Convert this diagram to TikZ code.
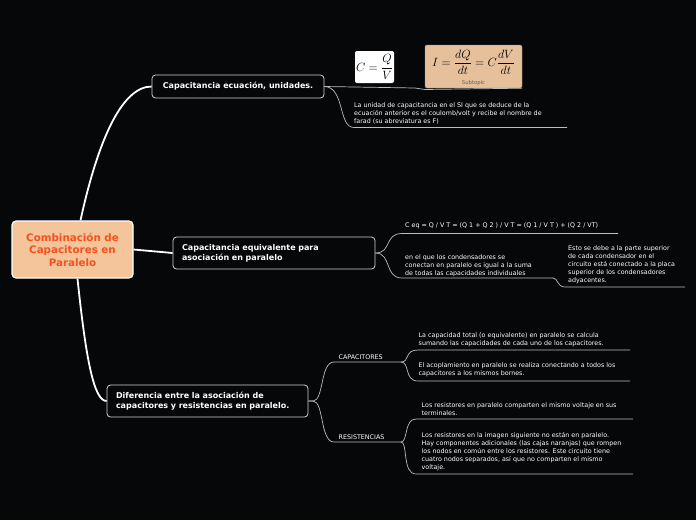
\documentclass[tikz,border=0pt]{standalone}
\usepackage[no-math]{fontspec}
\setmainfont{DejaVu Sans}
\usepackage{amsmath}
\definecolor{bgdark}{HTML}{060709}
\definecolor{peach}{HTML}{F4C49B}
\definecolor{rootred}{HTML}{F4511E}
\definecolor{subpeach}{HTML}{E6BF9B}
\definecolor{twiggray}{HTML}{BDBDBD}
\tikzset{
  rootbox/.style={draw=white, line width=1.2pt, fill=peach, rounded corners=4pt,
    text=rootred, font=\fontsize{10.3}{12.5}\selectfont\bfseries, align=center,
    minimum width=121pt, minimum height=57pt},
  mainbox/.style={draw=white!82!black, line width=0.8pt, fill=bgdark, rounded corners=3.5pt,
    text=white, font=\fontsize{8}{9.8}\selectfont\bfseries, align=left, inner xsep=9pt},
  note/.style={text=white, font=\fontsize{6.35}{8}\selectfont, align=left,
    inner sep=0pt, anchor=north west},
  link/.style={draw=white, line width=1.8pt},
  twig/.style={draw=twiggray, line width=0.7pt}
}
\begin{document}
\begin{tikzpicture}[x=1pt,y=-1pt]
\fill[bgdark] (0,0) rectangle (696,520);
\useasboundingbox (0,0) rectangle (696,520);

% central topic and main branches
\node[rootbox] (root) at (72.5,249.5) {Combinación de\\Capacitores en\\Paralelo};
\node[mainbox, minimum width=172pt, minimum height=23pt, align=center] (ecu) at (238,86.5)
  {Capacitancia ecuación, unidades.};
\node[mainbox, minimum width=202pt, minimum height=32pt, text width=184pt] (equiv) at (274,253)
  {Capacitancia equivalente para\\asociación en paralelo};
\node[mainbox, minimum width=201pt, minimum height=32pt, text width=183pt] (dif) at (207.5,401)
  {Diferencia entre la asociación de\\capacitores y resistencias en paralelo.};

\draw[link] ([xshift=8pt]root.north) .. controls (98,140) and (122,86.5) .. (ecu.west);
\draw[link] (root.east) -- (equiv.west);
\draw[link] ([xshift=5pt]root.south) .. controls (86,360) and (94,401) .. (dif.west);

% ecuacion y unidades
\node[fill=white, rounded corners=2pt, minimum width=39pt, minimum height=32pt, inner sep=0.5pt]
  (cqv) at (374.5,67) {\fontsize{12.5}{14}\selectfont$C=\dfrac{Q}{V}$};
\node[fill=subpeach, draw=gray!70!subpeach, rounded corners=2pt, minimum width=97pt,
  minimum height=43pt, inner sep=1pt] (subI) at (473.5,66.5) {};
\node[inner sep=0pt] (formI) at (473.5,62.5)
  {\fontsize{11.5}{13}\selectfont$I=\dfrac{dQ}{dt}=C\dfrac{dV}{dt}$};
\node[inner sep=0pt, text=gray!75!black, font=\fontsize{5.3}{6}\selectfont] (subT) at (473.5,83)
  {Subtopic};
\node[note] (unid) at (354,102.5)
  {La unidad de capacitancia en el SI que se deduce de la\\ecuación  anterior es el coulomb/volt y recibe el nombre de\\farad (su abreviatura es F)};
\coordinate (unidE) at (567,127.5);

\draw[twig] (ecu.east) -- (415,88) .. controls (420,88) and (420,89.5) .. (425,89.5) -- (subI.south east);
\draw[twig] (ecu.east) .. controls (345,87) and (338,127.5) .. (354,127.5) -- (unidE);

% capacitancia equivalente
\node[note] (ceq) at (405,222.5)
  {C eq = Q / V T = (Q 1 + Q 2 ) / V T = (Q 1 / V T ) + (Q 2 / VT)};
\coordinate (ceqE) at (618,233.5);
\node[note] (suma) at (405,254)
  {en el que los condensadores se\\conectan en paralelo es igual a la suma\\de todas las capacidades individuales};
\coordinate (sumaE) at (553,278);
\node[note] (placa) at (568,245)
  {Esto se debe a la parte superior\\de cada condensador en el\\circuito está conectado a la placa\\superior de los condensadores\\adyacentes.};
\coordinate (placaE) at (685,287);

\draw[twig] (equiv.east) .. controls (392,253) and (384,233.5) .. (402,233.5) -- (ceqE);
\draw[twig] (equiv.east) .. controls (392,253) and (384,278) .. (402,278) -- (sumaE);
\draw[twig] (sumaE) .. controls (558,278) and (557,287) .. (565,287) -- (placaE);

% capacitores y resistencias
\node[note, anchor=south west] (capa) at (338.5,359.5) {CAPACITORES};
\coordinate (capaE) at (401,362);
\node[note, anchor=south west] (resi) at (338.5,439.5) {RESISTENCIAS};
\coordinate (resiE) at (401,442);

\draw[twig] (dif.east) -- (313,401) .. controls (324,401) and (320,362) .. (334,362) -- (capaE);
\draw[twig] (dif.east) -- (313,401) .. controls (324,401) and (320,442) .. (334,442) -- (resiE);

\node[note] (total) at (418.5,332.5)
  {La capacidad total (o equivalente) en paralelo se calcula\\sumando las capacidades de cada uno de los capacitores.};
\coordinate (totalE) at (630,350);
\node[note] (bornes) at (418.5,362.5)
  {El acoplamiento en paralelo se realiza conectando a todos los\\capacitores a los mismos bornes.};
\coordinate (bornesE) at (630,381);

\draw[twig] (capaE) .. controls (410,362) and (404,350) .. (418,350) -- (totalE);
\draw[twig] (capaE) .. controls (410,362) and (404,381) .. (418,381) -- (bornesE);

\node[note] (volt) at (421.5,402.5)
  {Los resistores en paralelo comparten el mismo voltaje en sus\\terminales.};
\coordinate (voltE) at (633,419);
\node[note] (nodos) at (421.5,432)
  {Los resistores en la imagen siguiente no están en paralelo.\\Hay componentes adicionales (las cajas naranjas) que rompen\\los nodos en común entre los resistores. Este circuito tiene\\cuatro nodos separados, así que  no comparten el mismo\\voltaje.};
\coordinate (nodosE) at (633,474);

\draw[twig] (resiE) .. controls (408,442) and (404,419) .. (416,419) -- (voltE);
\draw[twig] (resiE) .. controls (408,442) and (402,474) .. (416,474) -- (nodosE);
\end{tikzpicture}
\end{document}
